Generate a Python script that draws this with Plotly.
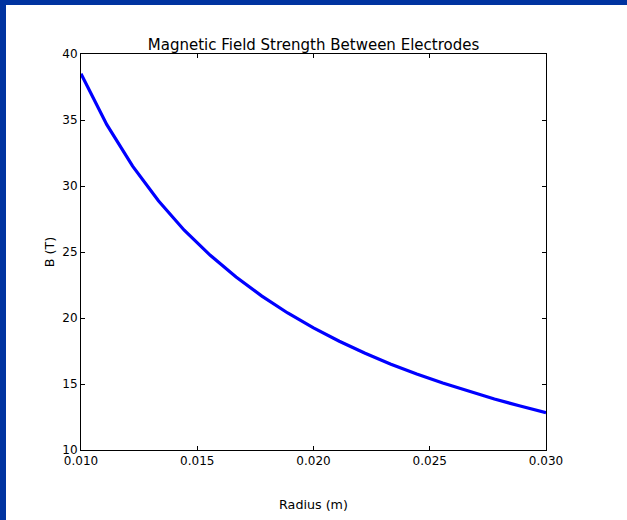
import plotly.graph_objects as go

radius = [0.01000, 0.01111, 0.01222, 0.01333, 0.01444, 0.01556, 0.01667, 0.01778,
          0.01889, 0.02000, 0.02111, 0.02222, 0.02333, 0.02444, 0.02556, 0.02667,
          0.02778, 0.02889, 0.03000]
field = [38.50, 34.65, 31.50, 28.88, 26.65, 24.75, 23.10, 21.66,
         20.38, 19.25, 18.24, 17.33, 16.50, 15.75, 15.07, 14.44,
         13.86, 13.33, 12.83]
x_ticks = [0.010, 0.015, 0.020, 0.025, 0.030]
x_tick_labels = ["0.010", "0.015", "0.020", "0.025", "0.030"]
y_ticks = [10, 15, 20, 25, 30, 35, 40]

W_PX, H_PX = 627, 520
L, R, T, B = 81, 81, 54, 70
pw = W_PX - L - R
ph = H_PX - T - B
BORDER = "#0033a0"
FONT = "DejaVu Sans"

fig = go.Figure()
fig.add_trace(go.Scatter(x=radius, y=field, mode="lines",
                         line=dict(color="#0000ff", width=3.2), showlegend=False))

axis_common = dict(showgrid=False, zeroline=False, showline=True, linecolor="#000000",
                   linewidth=1, mirror="allticks", ticks="inside", ticklen=4,
                   tickwidth=1, tickcolor="#000000",
                   tickfont=dict(family=FONT, size=12, color="#000000"))

fig.update_layout(
    width=W_PX, height=H_PX,
    margin=dict(l=L, r=R, t=T, b=B),
    paper_bgcolor="white", plot_bgcolor="white",
    title=dict(text="Magnetic Field Strength Between Electrodes", x=0.5, xanchor="center",
               y=1 - 49.5 / H_PX, yanchor="bottom",
               font=dict(family=FONT, size=15, color="#000000")),
    xaxis=dict(range=[0.010, 0.030], tickvals=x_ticks, ticktext=x_tick_labels,
               title=dict(text="Radius (m)", font=dict(family=FONT, size=12.7, color="#000000"),
                          standoff=32),
               **axis_common),
    yaxis=dict(range=[10, 40], tickvals=y_ticks,
               title=dict(text="B (T)", font=dict(family=FONT, size=12.7, color="#000000"),
                          standoff=4),
               **axis_common),
    shapes=[
        dict(type="rect", xref="paper", yref="paper", layer="above",
             x0=-L / pw, x1=(W_PX - L) / pw, y0=1 + (T - 5) / ph, y1=1 + T / ph,
             fillcolor=BORDER, line=dict(width=0)),
        dict(type="rect", xref="paper", yref="paper", layer="above",
             x0=-L / pw, x1=-(L - 6) / pw, y0=-B / ph, y1=1 + T / ph,
             fillcolor=BORDER, line=dict(width=0)),
    ],
)

fig.write_html("out.html")
